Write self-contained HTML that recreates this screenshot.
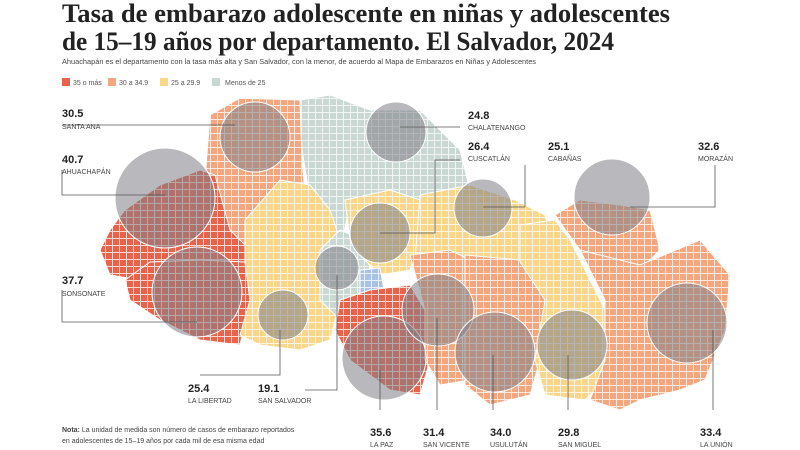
<!DOCTYPE html>
<html><head><meta charset="utf-8"><style>
body{margin:0;background:#fff;width:800px;height:450px;overflow:hidden;font-family:"Liberation Sans",sans-serif}
svg{display:block}
.v{font:bold 11px "Liberation Sans",sans-serif;fill:#222}
.n{font:7px "Liberation Sans",sans-serif;fill:#444}
</style></head><body>
<svg width="800" height="450" viewBox="0 0 800 450">
<defs>
<pattern id="g" width="7" height="7" patternUnits="userSpaceOnUse" x="0" y="0">
<path d="M0 0.5H7M0.5 0V7" stroke="#fff" stroke-width="1" stroke-opacity="0.75" fill="none"/>
</pattern>
</defs>
<text x="62" y="22" font-family="Liberation Serif,serif" font-weight="bold" font-size="26.5" fill="#222" textLength="608" lengthAdjust="spacingAndGlyphs">Tasa de embarazo adolescente en niñas y adolescentes</text>
<text x="62" y="50" font-family="Liberation Serif,serif" font-weight="bold" font-size="26.5" fill="#222" textLength="552" lengthAdjust="spacingAndGlyphs">de 15–19 años por departamento. El Salvador, 2024</text>
<text x="62" y="64" font-size="7.3" fill="#444" textLength="474" lengthAdjust="spacingAndGlyphs">Ahuachapán es el departamento con la tasa más alta y San Salvador, con la menor, de acuerdo al Mapa de Embarazos en Niñas y Adolescentes</text>
<rect x="62" y="78" width="8" height="8" fill="#e8634c"/><text x="73" y="85" font-size="7" fill="#555">35 o más</text>
<rect x="108" y="78" width="8" height="8" fill="#f4a67e"/><text x="119" y="85" font-size="7" fill="#555">30 a 34.9</text>
<rect x="160" y="78" width="8" height="8" fill="#f9d68a"/><text x="171" y="85" font-size="7" fill="#555">25 a 29.9</text>
<rect x="212" y="78" width="8" height="8" fill="#c9d8d3"/><text x="225" y="85" font-size="7" fill="#555">Menos de 25</text>

<g stroke="#fff" stroke-width="1">
<polygon fill="#f4a67e" points="210,115 240,98 300,100 302,160 310,250 280,262 240,258 215,220 205,180"/>
<polygon fill="#c9d8d3" points="300,100 330,95 370,110 420,110 440,130 460,150 470,190 420,200 390,190 350,205 340,250 322,255 310,200 302,150"/>
<polygon fill="#e8634c" points="100,250 110,230 125,210 160,185 200,170 215,175 230,230 250,250 245,270 200,280 140,280 110,275"/>
<polygon fill="#e8634c" points="125,280 150,262 200,260 245,262 250,300 240,345 200,340 160,320 130,300"/>
<polygon fill="#f9d68a" points="245,220 280,180 310,185 330,210 340,240 340,300 330,340 300,350 260,345 240,335 250,300 245,262"/>
<polygon fill="#c9d8d3" points="320,250 340,230 365,240 370,270 360,300 340,320 320,300"/>
<polygon fill="#f9d68a" points="345,200 390,190 420,200 420,240 410,270 380,275 365,260 350,240"/>
<polygon fill="#f9d68a" points="420,195 470,185 515,200 545,215 555,250 520,265 470,260 440,255 415,260"/>
<polygon fill="#a9c3e6" points="360,270 380,268 385,295 360,295"/>
<polygon fill="#e8634c" points="340,300 370,290 410,285 425,310 430,360 420,395 390,390 350,360 335,330"/>
<polygon fill="#f4a67e" points="410,255 450,250 470,260 465,320 470,380 440,385 425,360 425,310"/>
<polygon fill="#f4a67e" points="465,255 520,260 545,300 540,360 530,395 490,405 465,385 465,320"/>
<polygon fill="#f9d68a" points="520,225 555,220 570,240 590,280 610,320 605,380 585,400 545,395 535,360 545,300 520,262"/>
<polygon fill="#f4a67e" points="555,215 580,200 620,205 650,210 660,250 640,270 600,265 580,250"/>
<polygon fill="#f4a67e" points="580,250 640,265 700,240 730,275 725,330 705,380 680,390 640,400 620,410 590,400 605,360 605,300"/>
</g>
<rect x="90" y="90" width="660" height="330" fill="url(#g)"/>

<g fill="#7f8087" fill-opacity="0.55" stroke="#fff" stroke-width="1">
<circle cx="255" cy="137" r="35"/>
<circle cx="396" cy="132" r="30"/>
<circle cx="165" cy="198" r="50"/>
<circle cx="380" cy="233" r="30"/>
<circle cx="483" cy="208" r="29"/>
<circle cx="612" cy="197" r="38"/>
<circle cx="197" cy="292" r="45"/>
<circle cx="283" cy="315" r="25"/>
<circle cx="337" cy="268" r="22"/>
<circle cx="384" cy="358" r="42"/>
<circle cx="438" cy="310" r="36"/>
<circle cx="495" cy="352" r="40"/>
<circle cx="572" cy="345" r="35"/>
<circle cx="687" cy="323" r="40"/>
</g>

<g stroke="#555" stroke-width="0.8" fill="none">
<path d="M62 125H235"/>
<path d="M62 170V195H165"/>
<path d="M62 290V322H197"/>
<path d="M400 127H460"/>
<path d="M380 233H435V160H460"/>
<path d="M483 207H525V165"/>
<path d="M630 207H715V165"/>
<path d="M280 330V375H200"/>
<path d="M337 275V390H305"/>
<path d="M380 370V410"/>
<path d="M437 318V410"/>
<path d="M493 355V410"/>
<path d="M568 355V410"/>
<path d="M713 330V410"/>
</g>

<text class="v" x="62" y="117">30.5</text><text class="n" x="62" y="129">SANTA ANA</text>
<text class="v" x="62" y="163">40.7</text><text class="n" x="62" y="174">AHUACHAPÁN</text>
<text class="v" x="62" y="284">37.7</text><text class="n" x="62" y="296">SONSONATE</text>
<text class="v" x="468" y="119">24.8</text><text class="n" x="468" y="130">CHALATENANGO</text>
<text class="v" x="468" y="150">26.4</text><text class="n" x="468" y="161">CUSCATLÁN</text>
<text class="v" x="548" y="150">25.1</text><text class="n" x="548" y="161">CABAÑAS</text>
<text class="v" x="698" y="150">32.6</text><text class="n" x="698" y="161">MORAZÁN</text>
<text class="v" x="188" y="392">25.4</text><text class="n" x="188" y="403">LA LIBERTAD</text>
<text class="v" x="258" y="392">19.1</text><text class="n" x="258" y="403">SAN SALVADOR</text>
<text class="v" x="370" y="436">35.6</text><text class="n" x="370" y="447">LA PAZ</text>
<text class="v" x="423" y="436">31.4</text><text class="n" x="423" y="447">SAN VICENTE</text>
<text class="v" x="490" y="436">34.0</text><text class="n" x="490" y="447">USULUTÁN</text>
<text class="v" x="558" y="436">29.8</text><text class="n" x="558" y="447">SAN MIGUEL</text>
<text class="v" x="700" y="436">33.4</text><text class="n" x="700" y="447">LA UNIÓN</text>

<text x="62" y="432" font-size="7" fill="#444"><tspan font-weight="bold">Nota:</tspan> La unidad de medida son número de casos de embarazo reportados</text>
<text x="62" y="443" font-size="7" fill="#444">en adolescentes de 15–19 años por cada mil de esa misma edad</text>
</svg>
</body></html>
